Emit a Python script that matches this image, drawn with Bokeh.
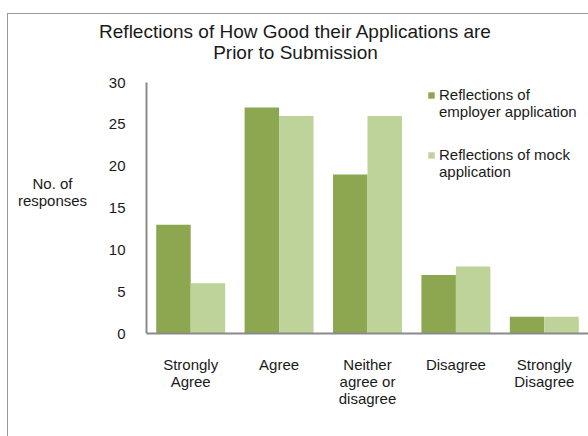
from bokeh.plotting import figure
from bokeh.models import (Range1d, FixedTicker, Label, Legend, LegendItem,
                          ColumnDataSource)
from bokeh.layouts import column, row
from bokeh.transform import dodge
from bokeh.embed import file_html
from bokeh.resources import INLINE

# ---- data ----
categories = ["Strongly\nAgree", "Agree", "Neither\nagree or\ndisagree",
              "Disagree", "Strongly\nDisagree"]
employer = [13, 27, 19, 7, 2]
mock = [6, 26, 26, 8, 2]
y_ticks = [0, 5, 10, 15, 20, 25, 30]
series_names = [["Reflections of", "employer application"],
                ["Reflections of mock", "application"]]
title_text = "Reflections of How Good their Applications are\nPrior to Submission"
y_label = "No. of\nresponses"

FONT = "Liberation Sans"
TXT = "#1a1a1a"
DARK = "#8CA74F"
LIGHT = "#BDD39A"
AXIS = "#8a8a8a"
BORDER = "#9a9a9a"


def blank_fig(w, h):
    f = figure(width=w, height=h, output_backend="svg", toolbar_location=None,
               x_range=Range1d(0, w), y_range=Range1d(0, h), min_border=0)
    f.axis.visible = False
    f.grid.visible = False
    f.outline_line_color = None
    f.background_fill_alpha = 0
    f.border_fill_alpha = 0
    return f


# ---- title strip ----
TW, TH = 588, 70
pt = blank_fig(TW, TH)
pt.styles = {
    "background": f"linear-gradient({BORDER},{BORDER}) 7px 13px / 1px 100% no-repeat, "
                  f"linear-gradient({BORDER},{BORDER}) 7px 13px / 100% 1px no-repeat, white"
}
pt.add_layout(Label(x=295, y=TH - 41, text=title_text, text_align="center",
                    text_baseline="middle", text_font=FONT,
                    text_font_size="19px", text_color=TXT,
                    text_line_height=1.0))

# ---- y-label strip ----
LW, LH = 100, 366
pl = blank_fig(LW, LH)
pl.styles = {
    "background": f"linear-gradient({BORDER},{BORDER}) 7px 0px / 1px 100% no-repeat, white"
}
pl.add_layout(Label(x=52, y=LH - 159, text=y_label, text_align="center",
                    text_baseline="middle", text_font=FONT,
                    text_font_size="15px", text_color=TXT,
                    text_line_height=1.0))

# ---- main chart ----
xs = [i + 0.5 for i in range(len(categories))]
src = ColumnDataSource(dict(x=xs, employer=employer, mock=mock))

p = figure(width=588 - LW, height=LH, output_backend="svg",
           toolbar_location=None,
           x_range=Range1d(0, 5), y_range=Range1d(0, 30),
           min_border_left=146 - LW, min_border_right=0,
           min_border_top=82 - TH, min_border_bottom=103)
p.xgrid.visible = False
p.ygrid.visible = False
p.outline_line_color = None
p.background_fill_color = "white"
p.border_fill_color = "white"

bw = 0.39
r1 = p.vbar(x=dodge("x", -bw / 2, range=p.x_range), top="employer", width=bw,
            source=src, fill_color=DARK, line_color=None)
r2 = p.vbar(x=dodge("x", bw / 2, range=p.x_range), top="mock", width=bw,
            source=src, fill_color=LIGHT, line_color=None)

xa = p.xaxis[0]
xa.ticker = FixedTicker(ticks=xs)
xa.major_label_overrides = {x: c for x, c in zip(xs, categories)}
xa.major_tick_line_color = None
xa.minor_tick_line_color = None
xa.major_tick_out = 0
xa.axis_line_color = AXIS
xa.axis_line_width = 2
xa.major_label_standoff = 22
xa.major_label_text_font = FONT
xa.major_label_text_font_size = "15px"
xa.major_label_text_color = TXT
xa.major_label_text_line_height = 1.0

ya = p.yaxis[0]
ya.ticker = FixedTicker(ticks=y_ticks)
ya.major_tick_line_color = None
ya.minor_tick_line_color = None
ya.major_tick_out = 0
ya.axis_line_color = AXIS
ya.axis_line_width = 2
ya.major_label_standoff = 21
ya.major_label_text_font = FONT
ya.major_label_text_font_size = "15px"
ya.major_label_text_color = TXT

# legends (marker on first line of each entry)
for names, r, loc in zip(series_names, [r1, r2], [(281, 213), (281, 153)]):
    lg = Legend(items=[LegendItem(label=names[0], renderers=[r]),
                       LegendItem(label=names[1], renderers=[])],
                location=loc, padding=0, margin=0,
                border_line_color=None, background_fill_alpha=0,
                glyph_width=8, glyph_height=8, label_standoff=4,
                spacing=0, label_height=17, label_text_font=FONT,
                label_text_font_size="15px", label_text_color=TXT)
    p.add_layout(lg)

layout = column(pt, row(pl, p, spacing=0), spacing=0)

open("out.html", "w").write(file_html(layout, INLINE))
